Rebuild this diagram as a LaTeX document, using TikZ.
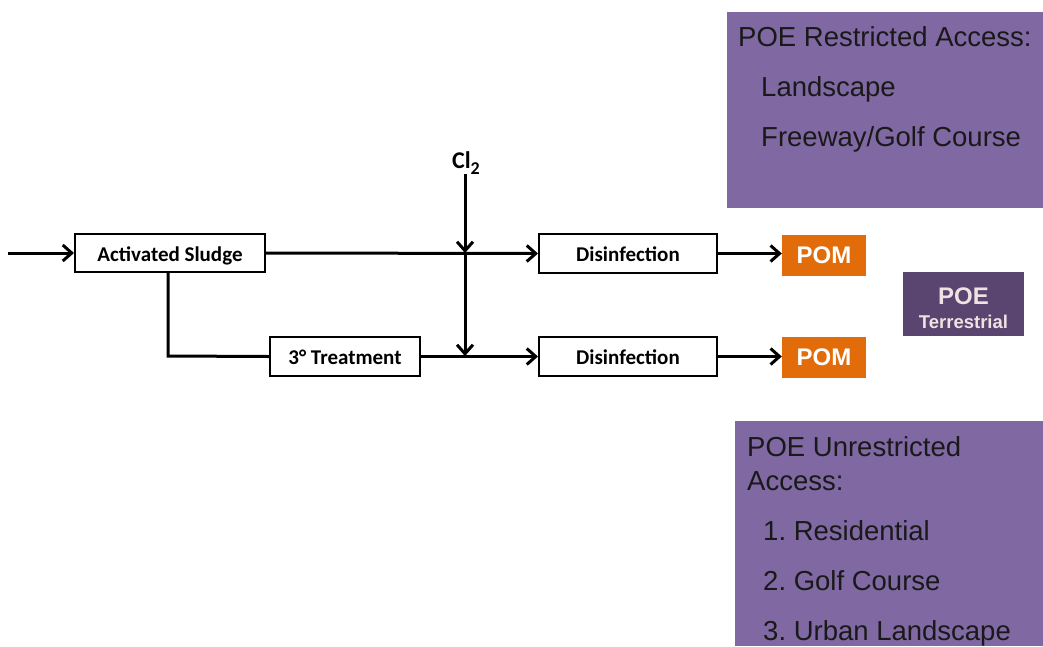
\documentclass[tikz,border=0pt]{standalone}
\usepackage{fontspec}
\setmainfont{Liberation Sans}
\newfontfamily\carlitofont{Carlito}
\usetikzlibrary{arrows.meta}
\frenchspacing
\definecolor{lpurple}{RGB}{128,104,163}
\definecolor{dpurple}{RGB}{90,68,112}
\definecolor{pomorange}{RGB}{227,108,10}
\definecolor{poetext}{RGB}{240,226,226}
\tikzset{
  procbox/.style={draw=black, line width=2pt, fill=white, inner sep=0pt, text height=16pt, text depth=0pt, font=\carlitofont\bfseries\fontsize{21}{24}\selectfont},
  flow/.style={line width=3pt, -{Straight Barb[length=9pt,width=16pt,line width=3pt]}},
  plain/.style={line width=3pt},
  pombox/.style={fill=pomorange, text=white, inner sep=0pt, font=\bfseries\fontsize{24}{28}\selectfont},
  listtext/.style={anchor=base west, inner sep=0pt, font=\fontsize{27.5}{32}\selectfont, text=black!90},
}
\begin{document}
\begin{tikzpicture}[x=1pt,y=-1pt]
\useasboundingbox (0,0) rectangle (1043,646);
% purple panels
\fill[lpurple] (727,12) rectangle (1043,208);
\fill[lpurple] (735,421) rectangle (1043,646);
\node[listtext] (r0) at (738,46) {POE Restricted Access:};
\node[listtext] (r1) at (761,96) {Landscape};
\node[listtext] (r2) at (761,146) {Freeway/Golf Course};
\node[listtext] (u0) at (747,456) {POE Unrestricted};
\node[listtext] (u1) at (747,490) {Access:};
\node[listtext] (u2) at (763,540) {1. Residential};
\node[listtext] (u3) at (763,590) {2. Golf Course};
\node[listtext] (u4) at (763,640) {3. Urban Landscape};
% POE terrestrial
\node[fill=dpurple, minimum width=121pt, minimum height=64pt, inner sep=0pt] (poe) at (963.5,304) {};
\node[text=poetext, font=\bfseries\fontsize{24}{28}\selectfont, inner sep=0pt, anchor=base] (poet) at (963.5,304) {POE};
\node[text=poetext, font=\bfseries\fontsize{18.5}{22}\selectfont, inner sep=0pt, anchor=base] (poes) at (963.5,328) {Terrestrial};
% process boxes
\node[procbox, minimum width=190pt, minimum height=38pt] (as) at (170,253) {Activated Sludge};
\node[procbox, minimum width=150pt, minimum height=39pt] (tt) at (345,356.5) {3° Treatment};
\node[procbox, minimum width=178pt, minimum height=39pt] (d1) at (628,253.5) {Disinfection};
\node[procbox, minimum width=178pt, minimum height=39pt] (d2) at (628,356.5) {Disinfection};
\node[pombox, minimum width=84pt, minimum height=41pt] (p1) at (824,255.5) {POM};
\node[pombox, minimum width=84pt, minimum height=41pt] (p2) at (824,357.5) {POM};
% Cl2
\node[font=\carlitofont\bfseries\fontsize{24}{26}\selectfont, inner sep=0pt, anchor=base] (cl) at (466,168) {Cl\raisebox{-6pt}{\fontsize{18}{20}\selectfont 2}};
% coordinates
\coordinate (in) at (8,253);
\coordinate (j1) at (465,253);
\coordinate (j2) at (465,356);
\coordinate (clt) at (465,174);
\coordinate (bend) at (168,356);
% connectors
\draw[flow] (in) -- (as.west);
\draw[flow] (as.east) -- (d1.west);
\draw[flow] (tt.east) -- (d2.west);
\draw[plain] (as.south -| bend) -- (bend) -- (tt.west);
\draw[flow] (clt) -- (j1);
\draw[flow] (j1) -- (j2);
\draw[flow] (d1.east) -- (p1.west |- d1.east);
\draw[flow] (d2.east) -- (p2.west |- d2.east);
\end{tikzpicture}
\end{document}
